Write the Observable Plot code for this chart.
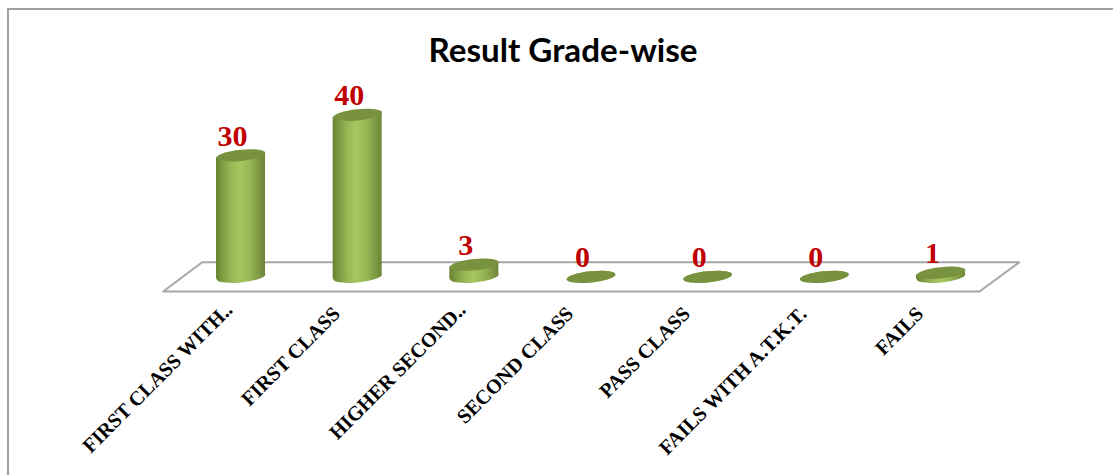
<!DOCTYPE html>
<html>
<head>
<meta charset="utf-8">
<script src="https://cdn.jsdelivr.net/npm/d3@7"></script>
<script src="https://cdn.jsdelivr.net/npm/@observablehq/plot@0.6"></script>
<style>
html,body{margin:0;padding:0;background:#fff;overflow:hidden}
#frame{position:absolute;left:7px;top:8px;right:-5px;bottom:-5px;border:2px solid #a0a0a0;box-sizing:border-box}
#title{position:absolute;left:0;top:0;width:1126px;height:80px;text-align:center;font:bold 33.2px/98px Lato,sans-serif;color:#000}
#chart{position:absolute;left:0;top:80px}
svg{display:block;background:none;overflow:visible}
</style>
</head>
<body>
<div id="frame"></div>
<div id="title">Result Grade-wise</div>
<div id="chart"></div>
<script>
const categories = ["FIRST CLASS WITH..","FIRST CLASS","HIGHER SECOND..","SECOND CLASS","PASS CLASS","FAILS WITH A.T.K.T.","FAILS"];
const values = [30,40,3,0,0,0,1];
const floorX = [-0.667,-0.333,6.673,6.33,-0.667];
const floorY = [-3.63,3.6,3.6,-3.63,-3.63];
const truncatedTicks = [0,2];
const fullTicks = [1,3,4,5,6];

const rows = categories.map((c,i)=>({i,c,v:values[i]}));
const halfWidth = 0.21, tilt = 0.6;
const body = rows.filter(d=>d.v>0).flatMap(d=>[
  {i:d.i,x:d.i-halfWidth,y1:-tilt,y2:d.v-tilt},
  {i:d.i,x:d.i+halfWidth,y1:tilt,y2:d.v+tilt}
]);

// tilted ellipse symbol: radius comes from Plot's r option
const tiltedEllipse = {
  draw(ctx,size){
    const rx=Math.sqrt(size/Math.PI), ry=rx*0.23, a=-5.8*Math.PI/180, k=0.5523;
    const c=Math.cos(a), s=Math.sin(a);
    const P=(x,y)=>[x*c-y*s,x*s+y*c];
    const seg=(a1,b1,a2,b2,a3,b3)=>ctx.bezierCurveTo(...P(a1,b1),...P(a2,b2),...P(a3,b3));
    ctx.moveTo(...P(rx,0));
    seg(rx,k*ry,k*rx,ry,0,ry);
    seg(-k*rx,ry,-rx,k*ry,-rx,0);
    seg(-rx,-k*ry,-k*rx,-ry,0,-ry);
    seg(k*rx,-ry,rx,-k*ry,rx,0);
    ctx.closePath();
  }
};

const gradient = () => {
  const defs = d3.create("svg:defs");
  const g = defs.append("linearGradient").attr("id","cyl").attr("x1",0).attr("x2",1).attr("y1",0).attr("y2",0);
  [[0,"#66822f"],[0.12,"#7c9a40"],[0.3,"#96b754"],[0.48,"#a6c760"],[0.68,"#98b855"],[0.88,"#7d9843"],[1,"#6d8439"]]
    .forEach(([o,col])=>g.append("stop").attr("offset",o).attr("stop-color",col));
  return defs.node();
};

const axisStyle = {tickFormat:i=>categories[i],tickRotate:-45,tickSize:0,tickPadding:0,label:null,fontFamily:"Liberation Serif",fontWeight:"bold",fontSize:20.3,fill:"#000",marginBottom:175,textOverflow:null,lineWidth:Infinity};

const plot = Plot.plot({
  width:1113, height:395,
  marginTop:0, marginLeft:0, marginRight:0, marginBottom:175,
  x:{domain:[0,6],range:[240.5,940.5],axis:null},
  y:{domain:[0,40],range:[196.3,34.3],axis:null},
  marks:[
    gradient,
    Plot.line(floorX.map((x,k)=>({x,y:floorY[k]})),{x:"x",y:"y",stroke:"#a6a6a6",strokeWidth:2,strokeLinejoin:"miter"}),
    Plot.dot(rows,{x:"i",y:0,symbol:tiltedEllipse,r:24.5,fill:"url(#cyl)",stroke:"none"}),
    Plot.areaY(body,{x:"x",y1:"y1",y2:"y2",z:"i",fill:"url(#cyl)"}),
    Plot.dot(rows,{x:"i",y:"v",symbol:tiltedEllipse,r:24.5,fill:"#78923f",stroke:"none"}),
    Plot.text(rows,{x:"i",y:"v",text:d=>String(d.v),dx:-8.5,dy:-9.5,lineAnchor:"bottom",fill:"#c00000",fontFamily:"Liberation Serif",fontWeight:"bold",fontSize:30}),
    Plot.axisX({...axisStyle,ticks:truncatedTicks,dx:-12,dy:6}),
    Plot.axisX({...axisStyle,ticks:fullTicks,dx:-21,dy:10})
  ]
});
document.getElementById("chart").append(plot);
</script>
</body>
</html>
